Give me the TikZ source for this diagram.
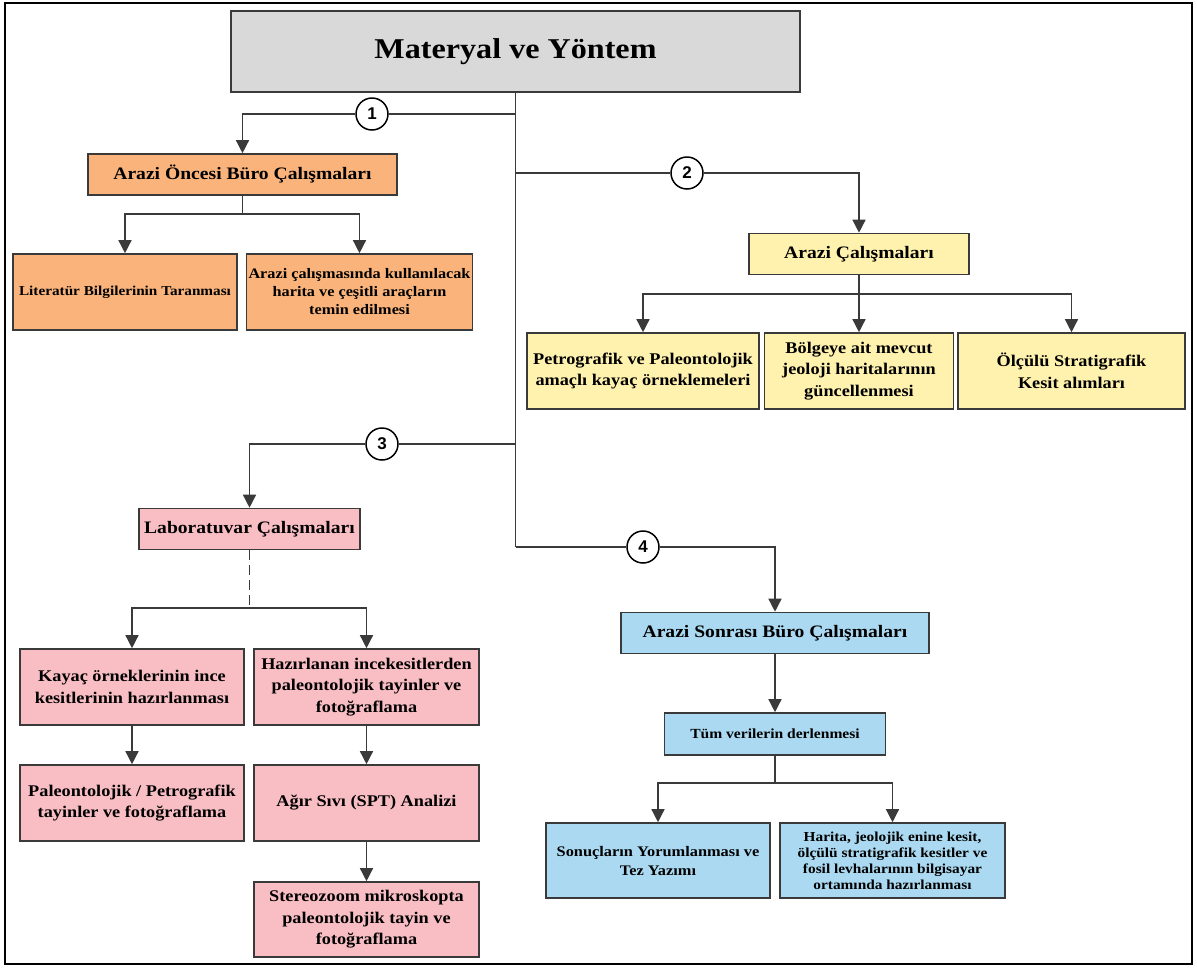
\documentclass[tikz,border=0pt]{standalone}
\usepackage{fontspec}
\setmainfont{Liberation Serif}[FakeStretch=1.12]
\newfontfamily\numfont{Liberation Sans}
\usetikzlibrary{arrows.meta}

\definecolor{titlefill}{HTML}{D9D9D9}
\definecolor{orangefill}{HTML}{F9B37B}
\definecolor{yellowfill}{HTML}{FFF2AE}
\definecolor{pinkfill}{HTML}{F9BEC4}
\definecolor{bluefill}{HTML}{AAD9F1}
\definecolor{linegray}{HTML}{3A3A3A}

\begin{document}
\begin{tikzpicture}[x=1pt, y=-1pt, color=linegray, line width=1.4pt, >={Triangle[width=13pt,length=13pt]},
  box/.style = {draw=linegray, line width=1.6pt, inner sep=2pt, align=center, text=black},
  head/.style = {box, minimum height=41pt, font=\bfseries\fontsize{17.5}{21}\selectfont},
  sub/.style = {box, minimum height=76pt, font=\bfseries\fontsize{16.3}{21.5}\selectfont},
  num/.style = {draw=black, circle, fill=white, line width=1.5pt, minimum size=32pt, inner sep=0pt, text=black, font=\numfont\bfseries\fontsize{17}{17}\selectfont}]
\useasboundingbox (0,0) rectangle (1197,967);
\draw[black, line width=2.5pt] (5,3) rectangle (1192,964);

\node[box, fill=titlefill, minimum width=569pt, minimum height=81pt, font=\bfseries\fontsize{28.7}{32}\selectfont] (ana) at (515.5,51.5) {Materyal ve Yöntem};

\node[num] (n1) at (372,114) {1};
\node[num] (n2) at (687,173) {2};
\node[num] (n3) at (382,444) {3};
\node[num] (n4) at (643,547) {4};

\node[head, fill=orangefill, minimum width=309pt] (ob) at (242.5,174.5) {Arazi Öncesi Büro Çalışmaları};
\node[sub, fill=orangefill, minimum width=224pt, font=\bfseries\fontsize{13.6}{17}\selectfont] (o1) at (125,292) {Literatür Bilgilerinin Taranması};
\node[sub, fill=orangefill, minimum width=223pt, font=\bfseries\fontsize{14.5}{18}\selectfont] (o2) at (359.5,292) {Arazi çalışmasında kullanılacak\\harita ve çeşitli araçların\\temin edilmesi};

\node[head, fill=yellowfill, minimum width=220pt] (y0) at (859,254) {Arazi Çalışmaları};
\node[sub, fill=yellowfill, minimum width=232pt] (y1) at (643,371) {Petrografik ve Paleontolojik\\amaçlı kayaç örneklemeleri};
\node[sub, fill=yellowfill, minimum width=189pt] (y2) at (859,371) {Bölgeye ait mevcut\\jeoloji haritalarının\\güncellenmesi};
\node[sub, fill=yellowfill, minimum width=227pt] (y3) at (1071.5,371) {Ölçülü Stratigrafik\\Kesit alımları};

\node[head, fill=pinkfill, minimum width=221pt] (p0) at (249.5,529) {Laboratuvar Çalışmaları};
\node[sub, fill=pinkfill, minimum width=224pt] (p1) at (132,687) {Kayaç örneklerinin ince\\kesitlerinin hazırlanması};
\node[sub, fill=pinkfill, minimum width=225pt] (p2) at (366.5,687) {Hazırlanan incekesitlerden\\paleontolojik tayinler ve\\fotoğraflama};
\node[sub, fill=pinkfill, minimum width=224pt] (p3) at (132,803) {Paleontolojik / Petrografik\\tayinler ve fotoğraflama};
\node[sub, fill=pinkfill, minimum width=225pt] (p4) at (366.5,803) {Ağır Sıvı (SPT) Analizi};
\node[sub, fill=pinkfill, minimum width=225pt, minimum height=75pt] (p5) at (366.5,919.5) {Stereozoom mikroskopta\\paleontolojik tayin ve\\fotoğraflama};

\node[head, fill=bluefill, minimum width=308pt] (b0) at (775,633) {Arazi Sonrası Büro Çalışmaları};
\node[head, fill=bluefill, minimum width=221pt, minimum height=42pt, font=\bfseries\fontsize{13.9}{17}\selectfont] (b1) at (775,734) {Tüm verilerin derlenmesi};
\node[sub, fill=bluefill, minimum width=224pt, minimum height=75pt, font=\bfseries\fontsize{14.6}{19}\selectfont] (b2) at (658,860.5) {Sonuçların Yorumlanması ve\\Tez Yazımı};
\node[sub, fill=bluefill, minimum width=225pt, minimum height=75pt, font=\bfseries\fontsize{13.7}{16}\selectfont] (b3) at (892.5,860.5) {Harita, jeolojik enine kesit,\\ölçülü stratigrafik kesitler ve\\fosil levhalarının bilgisayar\\ortamında hazırlanması};

\coordinate (obj) at (242.5,214);
\coordinate (y0j) at (859,294);
\coordinate (p0j) at (249.5,608);
\coordinate (b1j) at (775,783);

\draw (ana) -- (ana.south |- n4);
\draw[->] (ana.south |- n1) -- (n1) -| (ob);
\draw[->] (ana.south |- n2) -- (n2) -| (y0);
\draw[->] (ana.south |- n3) -- (n3) -| (p0);
\draw[->] (ana.south |- n4) -- (n4) -| (b0);

\draw (ob) -- (obj);
\draw[->] (obj) -| (o1);
\draw[->] (obj) -| (o2);

\draw (y0) -- (y0j);
\draw[->] (y0j) -| (y1);
\draw[->] (y0j) -- (y2);
\draw[->] (y0j) -| (y3);

\draw[dash pattern=on 10pt off 5pt] (p0) -- (p0j);
\draw[->] (p0j) -| (p1);
\draw[->] (p0j) -| (p2);
\draw[->] (p1) -- (p3);
\draw[->] (p2) -- (p4);
\draw[->] (p4) -- (p5);

\draw[->] (b0) -- (b1);
\draw (b1) -- (b1j);
\draw[->] (b1j) -| (b2);
\draw[->] (b1j) -| (b3);
\end{tikzpicture}
\end{document}
